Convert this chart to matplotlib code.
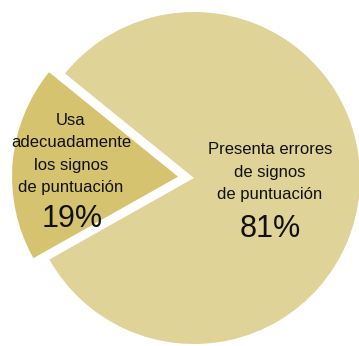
import matplotlib
matplotlib.use("Agg")
import matplotlib.pyplot as plt

# Slice data
labels = ["Usa\nadecuadamente\nlos signos\nde puntuación",
          "Presenta errores\nde signos\nde puntuación"]
values = [19, 81]
colors = ["#d5c36f", "#dfd398"]

plt.rcParams["font.family"] = ["Liberation Sans", "DejaVu Sans"]

W, H = 359, 346
fig = plt.figure(figsize=(W / 100, H / 100), dpi=100)
ax = fig.add_axes([0, 0, 1, 1])

cx, cy, r = 194, H - 178, 166
# explode offsets are in data units (pixels here)
ax.pie(values, colors=colors, explode=[16, 0], startangle=141,
       counterclock=True, center=(cx, cy), radius=r,
       wedgeprops=dict(linewidth=0), frame=True)
ax.set_xlim(0, W)
ax.set_ylim(0, H)
ax.set_aspect("equal")
ax.axis("off")

# Labels
ax.text(71, H - 154, labels[0], ha="center", va="center", fontsize=12,
        linespacing=1.6, color="#111111")
ax.text(72, H - 219, f"{values[0]}%", ha="center", va="center", fontsize=22,
        color="#111111")
ax.text(270, H - 172, labels[1], ha="center", va="center", fontsize=12,
        linespacing=1.6, color="#111111")
ax.text(270, H - 229, f"{values[1]}%", ha="center", va="center", fontsize=22,
        color="#111111")

fig.savefig("out.png", dpi=100)
